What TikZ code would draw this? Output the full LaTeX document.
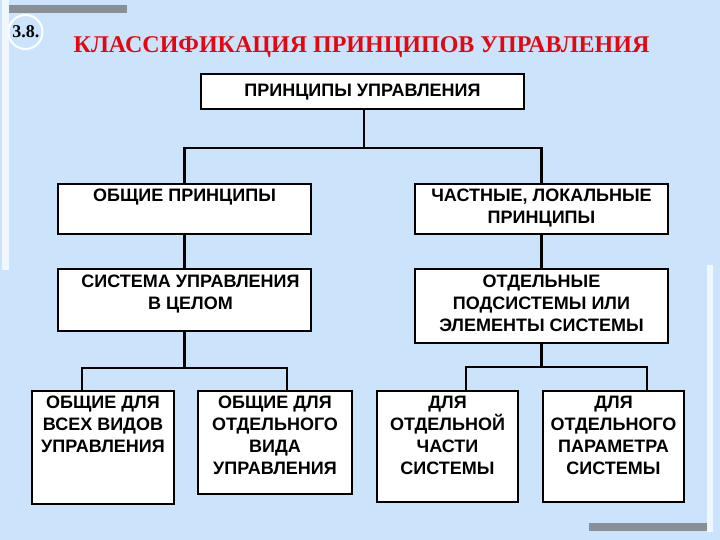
\documentclass[tikz,border=0pt]{standalone}
\usepackage{fontspec}
\setmainfont{Liberation Sans}
\newfontfamily\titlefont{Liberation Serif}
\usetikzlibrary{calc}
\definecolor{bgblue}{RGB}{204,228,251}
\definecolor{barGray}{RGB}{138,143,150}
\definecolor{stripW}{RGB}{240,248,255}
\definecolor{titleRed}{RGB}{226,8,18}
\begin{document}
\begin{tikzpicture}[x=1pt,y=-1pt,
  box/.style={draw=black, line width=2pt, fill=white, anchor=north west, inner sep=0pt},
  txt/.style={anchor=north, inner sep=0pt, align=center,
    font=\fontsize{18}{22}\selectfont\bfseries},
  conn/.style={line width=2.4pt, line cap=rect}
]
\useasboundingbox (0,0) rectangle (720,540);
\fill[bgblue] (0,0) rectangle (720,540);
% decorations
\fill[stripW] (2,0) rectangle (9,270);
\fill[stripW] (707,265) rectangle (713,532);
\fill[barGray] (9,5) rectangle (127,13);
\fill[barGray] (589,523) rectangle (707,531);
\draw[white, line width=2pt] (25.5,32) circle[radius=17];
\node[inner sep=0pt, font=\titlefont\fontsize{18}{20}\selectfont\bfseries] (num) at (26,32) {3.8.};
\node[inner sep=0pt, text=titleRed, font=\titlefont\fontsize{24}{26}\selectfont\bfseries] (title) at (361.5,47) {КЛАССИФИКАЦИЯ ПРИНЦИПОВ УПРАВЛЕНИЯ};

% boxes
\node[box, minimum width=323pt, minimum height=35pt] (top) at (200,73) {};
\node[box, minimum width=253pt, minimum height=50pt] (op) at (57,183) {};
\node[box, minimum width=253pt, minimum height=50pt] (cp) at (414,183) {};
\node[box, minimum width=253pt, minimum height=62pt] (sys) at (57,268) {};
\node[box, minimum width=253pt, minimum height=74pt] (sub) at (414,268) {};
\node[box, minimum width=142pt, minimum height=113pt] (b1) at (31,390) {};
\node[box, minimum width=154pt, minimum height=103pt] (b2) at (197,390) {};
\node[box, minimum width=141pt, minimum height=111pt] (b3) at (376,390) {};
\node[box, minimum width=141pt, minimum height=111pt] (b4) at (542,390) {};

% texts
\node[txt] (ttop) at ($(top.north)+(0,11)$) {ПРИНЦИПЫ УПРАВЛЕНИЯ};
\node[txt] (top1) at ($(op.north)+(0,6)$) {ОБЩИЕ ПРИНЦИПЫ};
\node[txt] (tcp) at ($(cp.north)+(0,6)$) {ЧАСТНЫЕ, ЛОКАЛЬНЫЕ\\ПРИНЦИПЫ};
\node[txt] (tsys) at ($(sys.north)+(6,6.5)$) {СИСТЕМА УПРАВЛЕНИЯ\\В ЦЕЛОМ};
\node[txt] (tsub) at ($(sub.north)+(0,7)$) {ОТДЕЛЬНЫЕ\\ПОДСИСТЕМЫ ИЛИ\\ЭЛЕМЕНТЫ СИСТЕМЫ};
\node[txt] (tb1) at ($(b1.north)+(0,6)$) {ОБЩИЕ ДЛЯ\\ВСЕХ ВИДОВ\\УПРАВЛЕНИЯ};
\node[txt] (tb2) at ($(b2.north)+(0,6)$) {ОБЩИЕ ДЛЯ\\ОТДЕЛЬНОГО\\ВИДА\\УПРАВЛЕНИЯ};
\node[txt] (tb3) at ($(b3.north)+(0,6)$) {ДЛЯ\\ОТДЕЛЬНОЙ\\ЧАСТИ\\СИСТЕМЫ};
\node[txt] (tb4) at ($(b4.north)+(0,6)$) {ДЛЯ\\ОТДЕЛЬНОГО\\ПАРАМЕТРА\\СИСТЕМЫ};

% connectors
\coordinate (j1) at ($(top.south)+(1.5,38)$);
\draw[conn] ($(top.south)+(1.5,0)$) -- (j1);
\draw[conn] (op.north) |- (j1) -| (cp.north);
\draw[conn] (op.south) -- (sys.north);
\draw[conn] (cp.south) -- (sub.north);
\coordinate (j2) at ($(sys.south)+(0,36)$);
\draw[conn] (sys.south) -- (j2);
\coordinate (b1in) at ($(b1.north west)+(51,0)$);
\coordinate (b2in) at ($(b2.north west)+(90,0)$);
\draw[conn] (b1in) |- (j2) -| (b2in);
\coordinate (j3) at ($(sub.south)+(0,23)$);
\draw[conn] (sub.south) -- (j3);
\coordinate (b3in) at ($(b3.north west)+(90,0)$);
\coordinate (b4in) at ($(b4.north west)+(105,0)$);
\draw[conn, line width=2.8pt] (b3in) |- (j3) -| (b4in);
\end{tikzpicture}
\end{document}
